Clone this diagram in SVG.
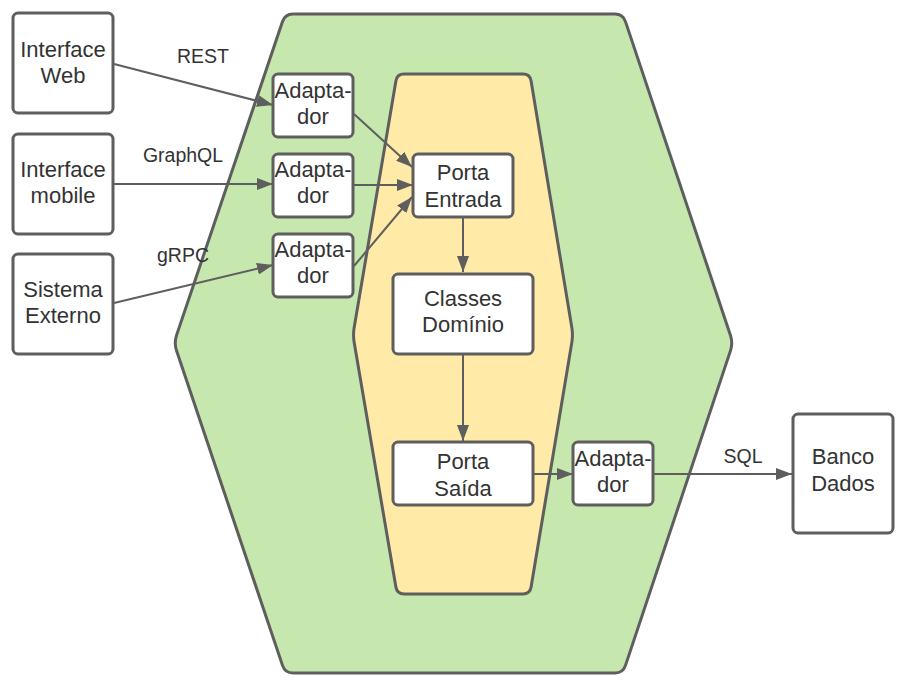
<svg xmlns="http://www.w3.org/2000/svg" width="914" height="696" viewBox="0 0 914 696">
<style>
.box{fill:#ffffff;stroke:#5e5e5e;stroke-width:3}
.t{font-family:"Liberation Sans",Arial,sans-serif;font-size:22px;fill:#333333;text-anchor:middle}
.lbl{font-family:"Liberation Sans",Arial,sans-serif;font-size:19.5px;fill:#333333;text-anchor:middle}
.c{stroke:#5e5e5e;stroke-width:2;fill:none;marker-end:url(#ah)}
</style>
<defs>
<marker id="ah" markerUnits="userSpaceOnUse" markerWidth="16" markerHeight="12" viewBox="0 0 16 12" refX="16" refY="6" orient="auto">
<path d="M0,0 L16,6 L0,12 Z" fill="#5e5e5e"/>
</marker>
</defs>
<g id="hexagon-outer">
<path d="M293,14 L615,14 Q623,14 625.5,21.6 L730.5,335.4 Q733,343 730.5,350.6 L625.5,665.4 Q623,673 615,673 L293,673 Q285,673 282.5,665.4 L176.5,350.6 Q174,343 176.5,335.4 L282.5,21.6 Q285,14 293,14 Z" fill="#c6e7ad" stroke="#5e5e5e" stroke-width="3"/>
</g>
<g id="hexagon-inner">
<path d="M404,74 L523,74 Q530,74 531.1,80.9 L571.9,328.1 Q573,335 571.9,341.9 L531.1,587.1 Q530,594 523,594 L404,594 Q397,594 395.9,587.1 L354.1,341.9 Q353,335 354.1,328.1 L395.9,80.9 Q397,74 404,74 Z" fill="#ffeaa7" stroke="#5e5e5e" stroke-width="3"/>
</g>
<g id="connectors">
<line class="c" x1="114" y1="64" x2="273" y2="105"/>
<line class="c" x1="114" y1="184" x2="273" y2="184"/>
<line class="c" x1="114" y1="303" x2="273" y2="265"/>
<line class="c" x1="354" y1="114" x2="412" y2="167"/>
<line class="c" x1="354" y1="185" x2="413" y2="185"/>
<line class="c" x1="354" y1="266" x2="412" y2="197"/>
<line class="c" x1="463" y1="218" x2="463" y2="272"/>
<line class="c" x1="463" y1="354" x2="463" y2="441"/>
<line class="c" x1="534" y1="474" x2="573" y2="474"/>
<line class="c" x1="654" y1="474" x2="792" y2="474"/>
<text class="lbl" x="203" y="63">REST</text>
<text class="lbl" x="183" y="162">GraphQL</text>
<text class="lbl" x="183" y="262">gRPC</text>
<text class="lbl" x="743" y="463">SQL</text>
</g>
<g id="interface-web">
<rect class="box" x="13" y="13" width="100" height="100" rx="5"/>
<text class="t" x="63" y="57">Interface</text>
<text class="t" x="63" y="83">Web</text>
</g>
<g id="interface-mobile">
<rect class="box" x="13" y="134" width="100" height="100" rx="5"/>
<text class="t" x="63" y="177">Interface</text>
<text class="t" x="63" y="203">mobile</text>
</g>
<g id="sistema-externo">
<rect class="box" x="13" y="254" width="100" height="100" rx="5"/>
<text class="t" x="63" y="297">Sistema</text>
<text class="t" x="63" y="323">Externo</text>
</g>
<g id="adaptador-1">
<rect class="box" x="273" y="74" width="80" height="63" rx="5"/>
<text class="t" x="313" y="97.5">Adapta-</text>
<text class="t" x="313" y="124">dor</text>
</g>
<g id="adaptador-2">
<rect class="box" x="273" y="154" width="80" height="63" rx="5"/>
<text class="t" x="313" y="177">Adapta-</text>
<text class="t" x="313" y="203">dor</text>
</g>
<g id="adaptador-3">
<rect class="box" x="273" y="234" width="80" height="63" rx="5"/>
<text class="t" x="313" y="257">Adapta-</text>
<text class="t" x="313" y="283">dor</text>
</g>
<g id="porta-entrada">
<rect class="box" x="413" y="154" width="100" height="63" rx="5"/>
<text class="t" x="463" y="180">Porta</text>
<text class="t" x="463" y="206.5">Entrada</text>
</g>
<g id="classes-dominio">
<rect class="box" x="393" y="274" width="140" height="80" rx="5"/>
<text class="t" x="463" y="306">Classes</text>
<text class="t" x="463" y="332">Domínio</text>
</g>
<g id="porta-saida">
<rect class="box" x="393" y="442" width="140" height="63" rx="5"/>
<text class="t" x="463" y="469">Porta</text>
<text class="t" x="463" y="496">Saída</text>
</g>
<g id="adaptador-4">
<rect class="box" x="573" y="442" width="80" height="63" rx="5"/>
<text class="t" x="613" y="466">Adapta-</text>
<text class="t" x="613" y="492">dor</text>
</g>
<g id="banco-dados">
<rect class="box" x="793" y="414" width="100" height="119" rx="5"/>
<text class="t" x="843" y="464">Banco</text>
<text class="t" x="843" y="491">Dados</text>
</g>
</svg>
